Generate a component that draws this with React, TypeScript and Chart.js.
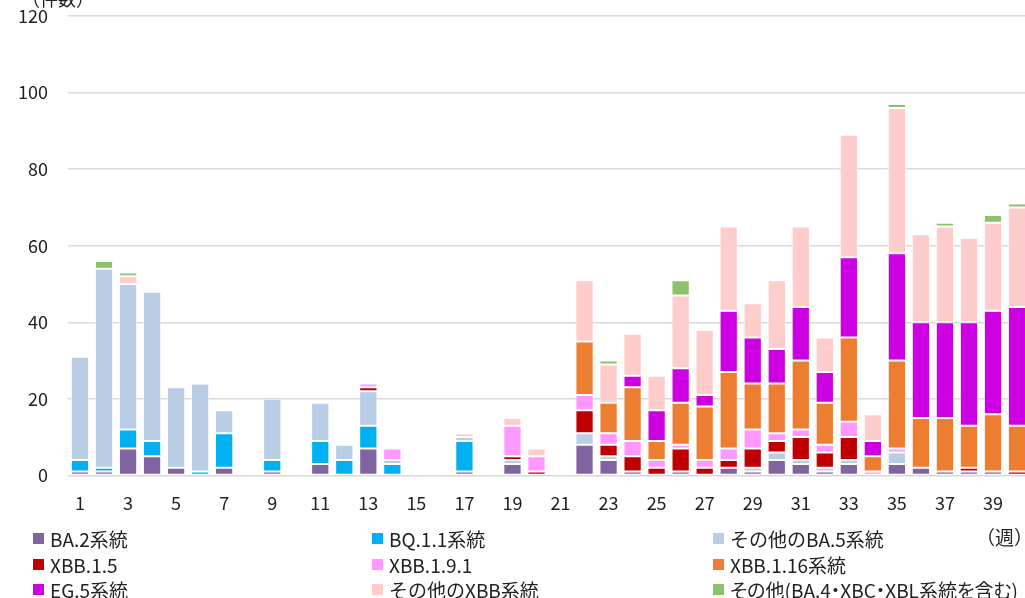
import React, { useEffect, useRef } from "react";
import Chart from "chart.js/auto";

const weeks = Array.from({ length: 40 }, (_, i) => String(i + 1));
const yTicks = [0, 20, 40, 60, 80, 100, 120];

const ba2 = [1, 1, 7, 5, 2, 0, 2, 0, 1, 0, 3, 0, 7, 0, 0, 0, 1, 0, 3, 0, 0, 8, 4, 1, 0, 1, 0, 2, 1, 4, 3, 1, 3, 0, 3, 2, 1, 1, 1, 0];
const bq11 = [3, 1, 5, 4, 0, 1, 9, 0, 3, 0, 6, 4, 6, 3, 0, 0, 8, 0, 0, 0, 0, 0, 0, 0, 0, 0, 0, 0, 0, 0, 0, 0, 0, 0, 0, 0, 0, 0, 0, 0];
const otherBa5 = [27, 52, 38, 39, 21, 23, 6, 0, 16, 0, 10, 4, 9, 1, 0, 0, 1, 0, 1, 0, 0, 3, 1, 0, 0, 0, 0, 0, 1, 2, 1, 1, 1, 0, 3, 0, 0, 0, 0, 0];
const xbb15 = [0, 0, 0, 0, 0, 0, 0, 0, 0, 0, 0, 0, 1, 0, 0, 0, 0, 0, 1, 1, 0, 6, 3, 4, 2, 6, 2, 2, 5, 3, 6, 4, 6, 0, 0, 0, 0, 1, 0, 1];
const xbb191 = [0, 0, 0, 0, 0, 0, 0, 0, 0, 0, 0, 0, 1, 3, 0, 0, 0, 0, 8, 4, 0, 4, 3, 4, 2, 1, 2, 3, 5, 2, 2, 2, 4, 1, 1, 0, 0, 0, 0, 0];
const xbb116 = [0, 0, 0, 0, 0, 0, 0, 0, 0, 0, 0, 0, 0, 0, 0, 0, 0, 0, 0, 0, 0, 14, 8, 14, 5, 11, 14, 20, 12, 13, 18, 11, 22, 4, 23, 13, 14, 11, 15, 12];
const eg5 = [0, 0, 0, 0, 0, 0, 0, 0, 0, 0, 0, 0, 0, 0, 0, 0, 0, 0, 0, 0, 0, 0, 0, 3, 8, 9, 3, 16, 12, 9, 14, 8, 21, 4, 28, 25, 25, 27, 27, 31];
const otherXbb = [0, 0, 2, 0, 0, 0, 0, 0, 0, 0, 0, 0, 0, 0, 0, 0, 1, 0, 2, 2, 0, 16, 10, 11, 9, 19, 17, 22, 9, 18, 21, 9, 32, 7, 38, 23, 25, 22, 23, 26];
const others = [0, 2, 1, 0, 0, 0, 0, 0, 0, 0, 0, 0, 0, 0, 0, 0, 0, 0, 0, 0, 0, 0, 1, 0, 0, 4, 0, 0, 0, 0, 0, 0, 0, 0, 1, 0, 1, 0, 2, 1];

const seriesNames = [
  "BA.2系統",
  "BQ.1.1系統",
  "その他のBA.5系統",
  "XBB.1.5",
  "XBB.1.9.1",
  "XBB.1.16系統",
  "EG.5系統",
  "その他のXBB系統",
  "その他(BA.4・XBC・XBL系統を含む)",
];
const seriesData = [ba2, bq11, otherBa5, xbb15, xbb191, xbb116, eg5, otherXbb, others];
const seriesColors = ["#8064A2", "#00B0F0", "#B9CDE5", "#C00000", "#FF99FF", "#ED7D31", "#CC00E0", "#FFCCCC", "#8DC26A"];

const FONT = "'Noto Sans CJK JP', 'Noto Sans', sans-serif";

export default function App() {
  const ref = useRef<HTMLCanvasElement | null>(null);
  useEffect(() => {
    if (!ref.current) return;
    const chart = new Chart(ref.current, {
      type: "bar",
      data: {
        labels: weeks,
        datasets: seriesNames.map((name, i) => ({
          label: name,
          data: seriesData[i],
          backgroundColor: seriesColors[i],
          borderColor: "rgba(255,255,255,0.55)",
          borderWidth: 1,
          borderSkipped: false,
          barPercentage: 0.76,
          categoryPercentage: 1,
        })),
      },
      options: {
        animation: false,
        responsive: true,
        maintainAspectRatio: false,
        layout: { padding: { top: 16, right: 0, left: 0, bottom: 0 } },
        plugins: { legend: { display: false }, tooltip: { enabled: false } },
        scales: {
          x: {
            stacked: true,
            grid: { display: false, drawTicks: false },
            border: { display: false },
            ticks: {
              autoSkip: false,
              maxRotation: 0,
              padding: 17,
              color: "#222",
              font: { family: FONT, size: 18 },
              callback: (_v: any, idx: number) => (idx % 2 === 0 ? weeks[idx] : ""),
            },
          },
          y: {
            stacked: true,
            min: 0,
            max: 120,
            afterFit: (scale: any) => {
              scale.width = 68;
            },
            afterBuildTicks: (scale: any) => {
              scale.ticks = yTicks.map((v) => ({ value: v }));
            },
            grid: { color: "#D9D9D9", lineWidth: 1.5, drawTicks: true, tickLength: 20, tickColor: "rgba(0,0,0,0)" },
            border: { display: false },
            ticks: {
              padding: 0,
              color: "#222",
              font: { family: FONT, size: 18 },
            },
          },
        },
      },
    });
    return () => chart.destroy();
  }, []);

  const legendCols = [33, 372, 713];
  const legendRows = [538, 564, 589];

  return (
    <div
      style={{
        position: "fixed",
        left: 0,
        top: 0,
        width: 1025,
        height: 598,
        overflow: "hidden",
        fontFamily: FONT,
        color: "#222",
        background: "#fff",
      }}
    >
      <div style={{ position: "absolute", left: 0, top: 0, width: 1034, height: 531 }}>
        <canvas ref={ref} />
      </div>
      <div style={{ position: "absolute", left: 22, top: -13, fontSize: 18, lineHeight: "22px" }}>（件数）</div>
      <div style={{ position: "absolute", left: 976, top: 526, fontSize: 19, lineHeight: "22px" }}>（週）</div>
      {seriesNames.map((name, i) => {
        const col = i % 3;
        const row = Math.floor(i / 3);
        return (
          <div
            key={name}
            style={{
              position: "absolute",
              left: legendCols[col],
              top: legendRows[row] - 12,
              height: 24,
              display: "flex",
              alignItems: "center",
              whiteSpace: "nowrap",
              fontSize: 19,
              fontFeatureSettings: i === 8 ? '"palt"' : "normal",
            }}
          >
            <span style={{ display: "inline-block", width: 11, height: 11, background: seriesColors[i], marginRight: 6 }} />
            <span>{name}</span>
          </div>
        );
      })}
    </div>
  );
}
